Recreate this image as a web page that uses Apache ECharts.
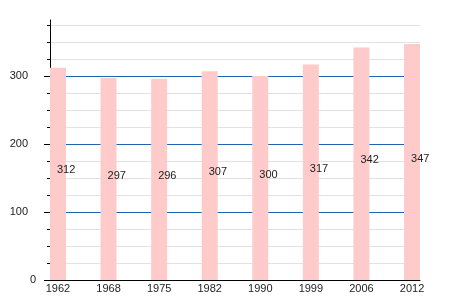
<!DOCTYPE html>
<html><head><meta charset="utf-8">
<script src="https://cdn.jsdelivr.net/npm/echarts@6/dist/echarts.min.js"></script>
<style>html,body{margin:0;padding:0;background:#fff}#c{width:450px;height:300px}</style>
</head><body><div id="c"></div>
<script>
var years = ['1962','1968','1975','1982','1990','1999','2006','2012'];
var population = [312, 297, 296, 307, 300, 317, 342, 347];
var majorTicks = [0, 100, 200, 300];
var gridMax = 375;
var axisMax = 382;

var font = 'Liberation Sans, Arial, sans-serif';
var chart = echarts.init(document.getElementById('c'));
chart.setOption({
  animation: false,
  grid: [
    {left: 50, right: 30, top: 25, bottom: 20},
    {left: 32.7, right: 12.7, top: 25, bottom: 20},
    {left: 50, right: 30, top: 20, bottom: 20}
  ],
  xAxis: [
    {gridIndex: 0, type: 'value', min: 0, max: 1,
     axisLine: {show: true, lineStyle: {color: '#000', width: 1}},
     axisTick: {show: false}, axisLabel: {show: false}, splitLine: {show: false}},
    {gridIndex: 1, type: 'category', data: years,
     axisLine: {show: false}, axisTick: {show: false}, splitLine: {show: false},
     axisLabel: {margin: 3, fontSize: 11, color: '#222', fontFamily: font}},
    {gridIndex: 2, type: 'value', min: 0, max: 1, show: false}
  ],
  yAxis: [
    {gridIndex: 0, type: 'value', min: 0, max: gridMax, interval: 25,
     axisLine: {show: false},
     axisTick: {show: true, length: 3, lineStyle: {color: '#000'}},
     axisLabel: {show: false},
     splitLine: {show: true, showMinLine: false, showMaxLine: true,
       lineStyle: {color: ['#e2e2e2', '#e2e2e2', '#e2e2e2', '#1f64b0'], width: 1}}},
    {gridIndex: 0, type: 'value', min: 0, max: gridMax, interval: 100, position: 'left',
     axisLine: {show: false},
     axisTick: {show: true, length: 6, customValues: majorTicks, lineStyle: {color: '#000'}},
     axisLabel: {show: true, customValues: majorTicks, margin: 14, fontSize: 11, color: '#222', fontFamily: font,
       formatter: function (v) { return v === 0 ? '{z|0}' : '{a|' + v + '}'; },
       rich: {z: {fontSize: 11, color: '#222', fontFamily: font},
              a: {fontSize: 11, color: '#222', fontFamily: font, padding: [0, 8, 0, 0]}}},
     splitLine: {show: false}},
    {gridIndex: 1, type: 'value', min: 0, max: gridMax, show: false, splitLine: {show: false}},
    {gridIndex: 2, type: 'value', min: 0, max: axisMax,
     axisLine: {show: true, lineStyle: {color: '#000', width: 1}},
     axisTick: {show: false}, axisLabel: {show: false}, splitLine: {show: false}}
  ],
  series: [{
    type: 'bar', xAxisIndex: 1, yAxisIndex: 2, data: population, barWidth: 16, z: 3,
    itemStyle: {color: '#ffcaca'},
    label: {show: true, position: ['50%', '50%'], align: 'left', verticalAlign: 'middle',
            offset: [-1, -3.5], fontSize: 11, color: '#222', fontFamily: font}
  }]
});
</script></body></html>
